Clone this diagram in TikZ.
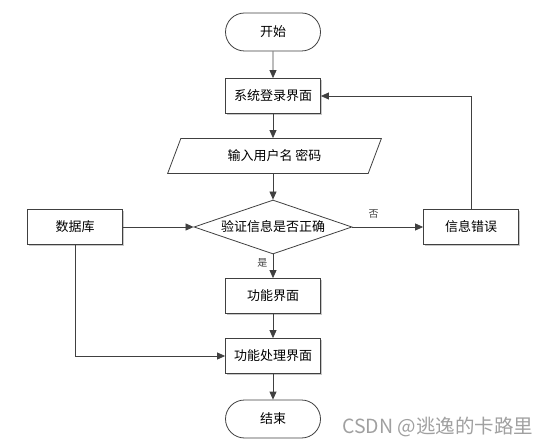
\documentclass[tikz,border=0pt]{standalone}
\usepackage{fontspec}
\setmainfont{Noto Sans CJK SC}
\newfontfamily\cjk{Noto Sans CJK SC}
\usetikzlibrary{shapes.geometric,shapes.misc,shadows,arrows.meta,calc}
\definecolor{ln}{HTML}{404040}
\definecolor{shd}{HTML}{C8C8C8}
\definecolor{wmc}{HTML}{A0A0A0}
\begin{document}
\begin{tikzpicture}[x=1pt,y=-1pt,
  base/.style={draw=ln,line width=0.8pt,fill=white,font=\fontsize{13}{15}\selectfont,inner sep=0pt},
  boxn/.style={base,rectangle,minimum width=95pt,minimum height=35pt,
    drop shadow={shadow xshift=1.5pt,shadow yshift=-1.5pt,fill=shd,opacity=1}},
  term/.style={base,rounded rectangle,minimum width=95pt,minimum height=38pt},
  para/.style={base,trapezium,trapezium left angle=61.5,trapezium right angle=118.5,minimum width=214pt,minimum height=35pt,trapezium stretches=true},
  dia/.style={base,diamond,aspect=2.9,minimum width=158pt,minimum height=54pt},
  arr/.style={draw=ln,line width=0.8pt,-{Triangle[length=8pt,width=7pt]}},
  lab/.style={font=\fontsize{10}{12}\selectfont,text=ln}
]
\useasboundingbox (0,0) rectangle (546,446);
\node[term] (start) at (273,32) {开始};
\node[boxn] (login) at (273,96) {系统登录界面};
\node[para] (input) at (274.5,156) {输入用户名 密码};
\node[dia] (check) at (273,227) {验证信息是否正确};
\node[boxn] (db) at (75,227) {数据库};
\node[boxn] (err) at (471,227) {信息错误};
\node[boxn] (func) at (273,296) {功能界面};
\node[boxn] (proc) at (273,356) {功能处理界面};
\node[term] (end) at (273,419) {结束};
\coordinate (c1) at (471,96);
\coordinate (c2) at (75,356);
\draw[arr] (start) -- (login);
\draw[arr] (login) -- (login |- input.north);
\draw[arr] (login |- input.south) -- (check);
\draw[arr] (db) -- (check);
\draw[arr] (check) -- node[lab,above,pos=0.3,yshift=5pt]{否} (err);
\draw[arr] (check) -- node[lab,left,pos=0.35,xshift=-2pt]{是} (func);
\draw[arr] (err.north) -- (c1) -- (login.east);
\draw[arr] (func) -- (proc);
\draw[arr] (db.south) -- (c2) -- (proc.west);
\draw[arr] (proc) -- (end);
\node[font=\fontsize{19.5}{21}\selectfont,text=wmc,anchor=west,inner sep=0pt] (wm) at (342,427) {CSDN @逃逸的卡路里};
\end{tikzpicture}
\end{document}
